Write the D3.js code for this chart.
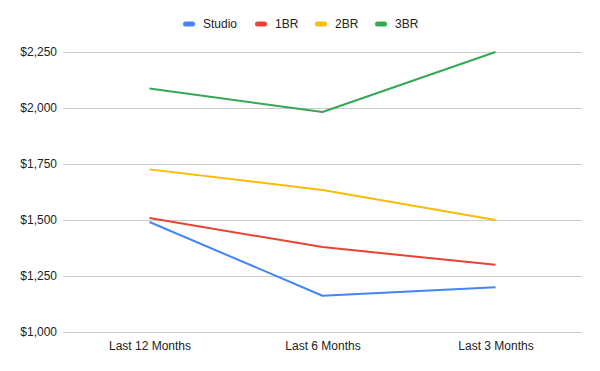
<!DOCTYPE html>
<html><head><meta charset="utf-8">
<script src="https://cdn.jsdelivr.net/npm/d3@7"></script>
<style>body{margin:0;background:#fff}svg{display:block}</style>
</head><body><div id="chart"></div>
<script>
const categories = ["Last 12 Months", "Last 6 Months", "Last 3 Months"];
const seriesNames = ["Studio", "1BR", "2BR", "3BR"];
const studio = [1491, 1162, 1200];
const br1 = [1509, 1379, 1300];
const br2 = [1726, 1634, 1500];
const br3 = [2087, 1982, 2250];
const yTicks = [1000, 1250, 1500, 1750, 2000, 2250];
const colors = ["#4285F4", "#EA4335", "#FBBC04", "#34A853"];

const W = 600, H = 371;
const m = {left: 63, right: 18, top: 52, bottom: 39};
const svg = d3.select("#chart").append("svg").attr("width", W).attr("height", H)
  .style("font-family", "Arial, 'Liberation Sans', sans-serif");

const x = d3.scalePoint().domain(categories).range([m.left, W - m.right]).padding(0.5);
const y = d3.scaleLinear().domain([1000, 2250]).range([H - m.bottom, m.top]);

const yAxis = svg.append("g").attr("transform", `translate(${m.left},0)`)
  .call(d3.axisLeft(y).tickValues(yTicks).tickSize(-(W - m.left - m.right)).tickPadding(6)
    .tickFormat(d => "$" + d3.format(",")(d)));
yAxis.select(".domain").remove();
yAxis.selectAll(".tick line").attr("stroke", "#ccc").attr("stroke-width", 1);
yAxis.selectAll(".tick text").attr("fill", "#222").attr("font-size", 12);

const xAxis = svg.append("g").attr("transform", `translate(0,${H - m.bottom})`)
  .call(d3.axisBottom(x).tickSize(0).tickPadding(9));
xAxis.select(".domain").remove();
xAxis.selectAll(".tick text").attr("fill", "#222").attr("font-size", 12);

const data = [studio, br1, br2, br3];
const line = d3.line().x((d, i) => x(categories[i])).y(d => y(d));
data.forEach((s, k) => {
  svg.append("path").datum(s).attr("d", line).attr("fill", "none")
    .attr("stroke", colors[k]).attr("stroke-width", 2).attr("stroke-linejoin", "round");
});

// legend
const legendX = [183, 255, 315, 375];
const lg = svg.append("g");
seriesNames.forEach((n, k) => {
  const g = lg.append("g").attr("transform", `translate(${legendX[k]},24)`);
  g.append("rect").attr("x", 0).attr("y", -2.5).attr("width", 12).attr("height", 5).attr("rx", 2.5)
    .attr("fill", colors[k]);
  g.append("text").attr("x", 20).attr("y", 0).attr("dy", "0.35em").attr("font-size", 12)
    .attr("fill", "#222").text(n);
});
</script></body></html>
